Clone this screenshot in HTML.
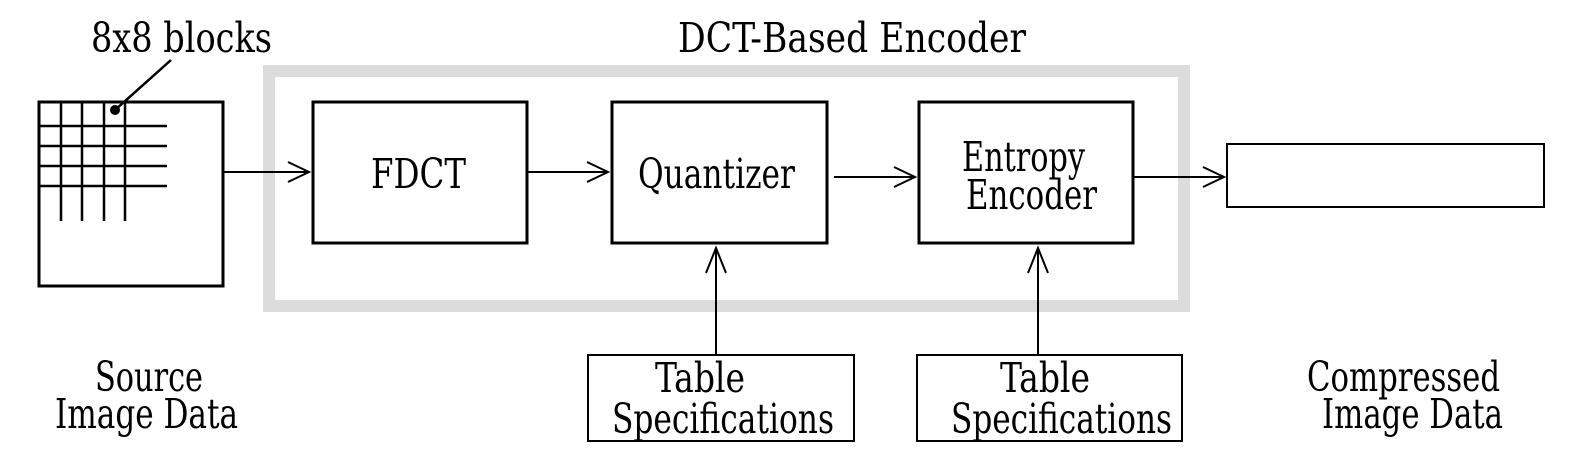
<!DOCTYPE html>
<html><head><meta charset="utf-8"><style>
html,body{margin:0;padding:0;background:#fff;}
svg{display:block;}
text{font-family:"DejaVu Serif Condensed","DejaVu Serif","Liberation Serif",serif;font-size:41px;fill:#000;}
</style></head><body>
<svg width="1581" height="458" viewBox="0 0 1581 458" xmlns="http://www.w3.org/2000/svg">
<rect x="269" y="71" width="915" height="235" fill="none" stroke="#dcdcdc" stroke-width="12"/>
<rect x="39" y="102" width="184" height="184" fill="none" stroke="#000" stroke-width="3"/>
<g stroke="#000" stroke-width="2.5">
<line x1="61" y1="102" x2="61" y2="221"/><line x1="82" y1="102" x2="82" y2="221"/>
<line x1="104" y1="102" x2="104" y2="221"/><line x1="125" y1="102" x2="125" y2="221"/>
<line x1="39" y1="126" x2="167" y2="126"/><line x1="39" y1="146" x2="167" y2="146"/>
<line x1="39" y1="166" x2="167" y2="166"/><line x1="39" y1="186" x2="167" y2="186"/>
<line x1="115" y1="110" x2="171" y2="60"/>
</g>
<circle cx="115" cy="110" r="5" fill="#000"/>
<g fill="none" stroke="#000" stroke-width="3">
<rect x="313" y="102" width="214" height="141"/>
<rect x="612" y="102" width="215" height="141"/>
<rect x="919" y="102" width="214" height="141"/>
</g>
<g fill="none" stroke="#000" stroke-width="2">
<rect x="1227" y="144" width="317" height="63"/>
<rect x="588" y="355" width="266" height="86"/>
<rect x="917" y="355" width="265" height="86"/>
</g>
<g fill="none" stroke="#000" stroke-width="2">
<line x1="224" y1="172" x2="309" y2="172"/><polyline points="288,162 309,172 288,182"/>
<line x1="528" y1="172" x2="608" y2="172"/><polyline points="587,162 608,172 587,182"/>
<line x1="834" y1="177" x2="915" y2="177"/><polyline points="894,167 915,177 894,187"/>
<line x1="1134" y1="177" x2="1224" y2="177"/><polyline points="1203,167 1224,177 1203,187"/>
<line x1="716" y1="354" x2="716" y2="248"/><polyline points="706,273 716,248 726,273"/>
<line x1="1038" y1="354" x2="1038" y2="248"/><polyline points="1028,273 1038,248 1048,273"/>
</g>
<text x="91" y="52" textLength="181" lengthAdjust="spacingAndGlyphs">8x8 blocks</text>
<text x="678" y="52" textLength="348" lengthAdjust="spacingAndGlyphs">DCT-Based Encoder</text>
<text x="371" y="188" textLength="95" lengthAdjust="spacingAndGlyphs">FDCT</text>
<text x="638" y="188" textLength="157" lengthAdjust="spacingAndGlyphs">Quantizer</text>
<text x="962" y="171" textLength="123" lengthAdjust="spacingAndGlyphs">Entropy</text>
<text x="966" y="209" textLength="131" lengthAdjust="spacingAndGlyphs">Encoder</text>
<text x="655" y="392" textLength="90" lengthAdjust="spacingAndGlyphs">Table</text>
<text x="612" y="433" textLength="222" lengthAdjust="spacingAndGlyphs">Specifications</text>
<text x="1000" y="392" textLength="90" lengthAdjust="spacingAndGlyphs">Table</text>
<text x="951" y="433" textLength="221" lengthAdjust="spacingAndGlyphs">Specifications</text>
<text x="95" y="391" textLength="108" lengthAdjust="spacingAndGlyphs">Source</text>
<text x="55" y="428" textLength="183" lengthAdjust="spacingAndGlyphs">Image Data</text>
<text x="1307" y="391" textLength="193" lengthAdjust="spacingAndGlyphs">Compressed</text>
<text x="1322" y="428" textLength="181" lengthAdjust="spacingAndGlyphs">Image Data</text>
</svg>
</body></html>
